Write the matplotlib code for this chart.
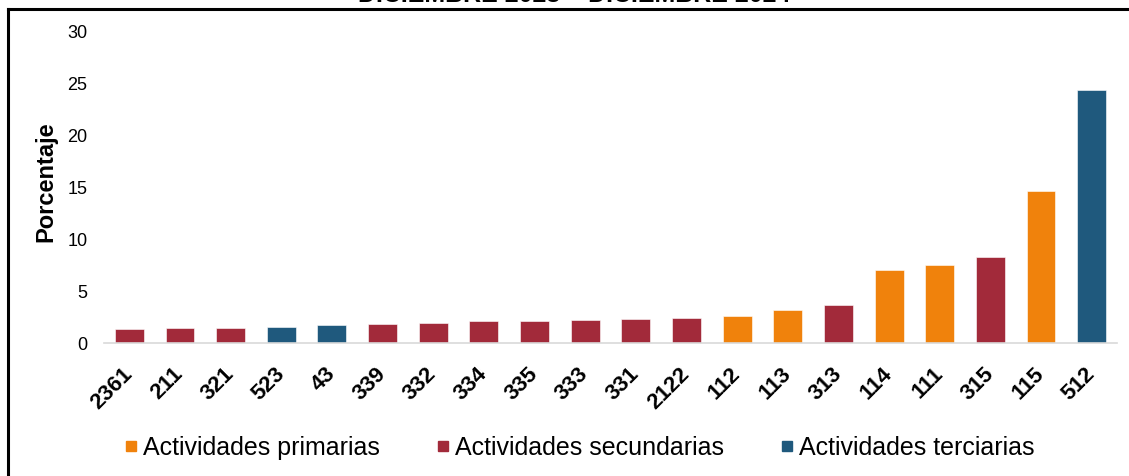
import matplotlib
matplotlib.use("Agg")
import matplotlib.pyplot as plt
from matplotlib.lines import Line2D

plt.rcParams['font.family'] = ['Liberation Sans', 'DejaVu Sans']

categories = ['2361', '211', '321', '523', '43', '339', '332', '334', '335', '333',
              '331', '2122', '112', '113', '313', '114', '111', '315', '115', '512']
values = [1.39, 1.48, 1.48, 1.58, 1.77, 1.87, 1.97, 2.16, 2.16, 2.19,
          2.29, 2.39, 2.58, 3.16, 3.65, 7.03, 7.52, 8.29, 14.6, 24.3]
sectors = ['sec', 'sec', 'sec', 'ter', 'ter', 'sec', 'sec', 'sec', 'sec', 'sec',
           'sec', 'sec', 'pri', 'pri', 'sec', 'pri', 'pri', 'sec', 'pri', 'ter']
sector_labels = {'pri': 'Actividades primarias',
                 'sec': 'Actividades secundarias',
                 'ter': 'Actividades terciarias'}
sector_colors = {'pri': '#F0820C', 'sec': '#A22A3A', 'ter': '#1F597D'}
title = 'DICIEMBRE 2023 – DICIEMBRE 2024'
ylabel = 'Porcentaje'
yticks = [0, 5, 10, 15, 20, 25, 30]

W, H = 1129, 476
fig = plt.figure(figsize=(W / 100, H / 100), dpi=100)
ax = fig.add_axes([104 / W, 1 - 343 / H, (1117 - 104) / W, (343 - 31) / H])

x = list(range(len(categories)))
colors = [sector_colors[s] for s in sectors]
ax.bar(x, values, width=0.57, color=colors, edgecolor='white', linewidth=0.4)

ax.set_xlim(-0.5, len(categories) - 0.5)
ax.set_ylim(0, 30)
ax.set_yticks(yticks)
ax.set_yticklabels([str(t) for t in yticks], fontsize=13)
ax.set_xticks(x)
ax.set_xticklabels(categories, rotation=45, ha='right', va='center',
                   rotation_mode='anchor', fontsize=16, fontweight='bold')
ax.tick_params(axis='y', length=0, pad=12)
ax.tick_params(axis='x', length=0, pad=20)
for sp in ['top', 'right', 'left']:
    ax.spines[sp].set_visible(False)
ax.spines['bottom'].set_color('#d9d9d9')
ax.spines['bottom'].set_linewidth(1.2)

fig.text(46 / W, 1 - 182 / H, ylabel, rotation=90, ha='center', va='center',
         fontsize=17, fontweight='bold')

# Legend
handles = [Line2D([], [], marker='s', linestyle='none', markersize=7.5,
                  color=sector_colors[k], label=sector_labels[k])
           for k in ['pri', 'sec', 'ter']]
fig.legend(handles=handles, loc='center', bbox_to_anchor=(579 / W, 1 - 448 / H),
           ncol=3, frameon=False, fontsize=18, handlelength=0.6,
           handletextpad=0.2, columnspacing=2.2, borderpad=0)

# Frame lines (top and left border)
fig.add_artist(Line2D([8 / W, 1.0], [1 - 9 / H, 1 - 9 / H], transform=fig.transFigure,
                      color='black', linewidth=2.2))
fig.add_artist(Line2D([8 / W, 8 / W], [0.0, 1 - 9 / H], transform=fig.transFigure,
                      color='black', linewidth=2.2))

# Title, mostly cut off at the top
fig.text(574 / W, 1 - 2.5 / H, title, ha='center', va='baseline',
         fontsize=18, fontweight='bold')

fig.savefig('out.png', dpi=100)
